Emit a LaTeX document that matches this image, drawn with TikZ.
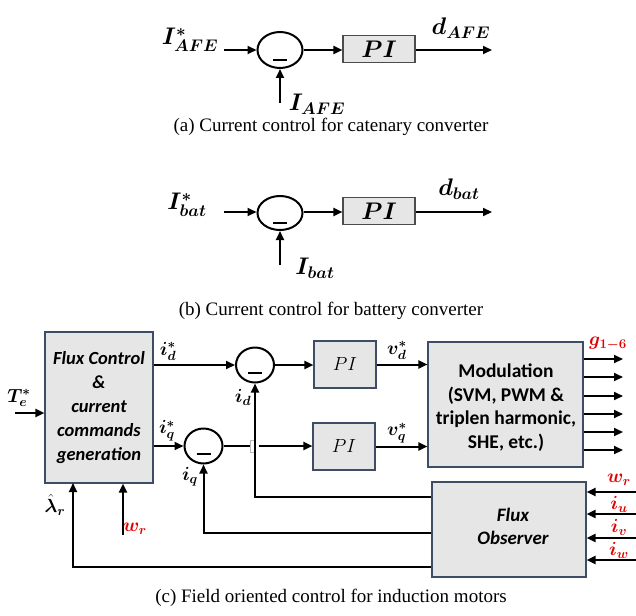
\documentclass[tikz,border=0pt]{standalone}
\usepackage{fix-cm}
\usepackage{amsmath}
\usepackage{bm}
\usepackage{fontspec}
\setmainfont{Liberation Serif}
\newfontfamily\calib{Carlito}
\usetikzlibrary{arrows.meta,shapes.geometric,calc}
\definecolor{boxfill}{HTML}{E6E6E6}
\definecolor{boxedge}{HTML}{3E4D63}
\definecolor{sigred}{HTML}{E00000}
\begin{document}
\begin{tikzpicture}[x=1pt,y=-1pt,
  line/.style={line width=2pt},
  arr/.style={line width=2pt,-{Triangle[length=9pt,width=8pt]}},
  pibox/.style={draw=black!70,line width=1.1pt,fill=boxfill,inner sep=0pt},
  cbox/.style={draw=boxedge,line width=1.1pt,fill=boxfill,inner sep=0pt,align=center},
  sumnode/.style={ellipse,draw,line width=2pt,inner sep=0pt},
  biglab/.style={font=\fontsize{24}{28}\selectfont,inner sep=0pt},
  lab/.style={font=\fontsize{19}{22}\selectfont,inner sep=0pt},
  redlab/.style={lab,text=sigred},
  capt/.style={font=\fontsize{19}{22}\selectfont,inner sep=0pt},
  minus/.style={line width=1.6pt}]
\useasboundingbox (0,0) rectangle (636,615);

% ---------- panel (a)
\node[sumnode,minimum width=45pt,minimum height=36pt] (suma) at (280,50) {};
\node[pibox,minimum width=72pt,minimum height=27pt,font=\fontsize{24}{28}\selectfont] (pia) at (379,49) {$\bm{PI}$};
\coordinate (ina) at (224,50);
\coordinate (outa) at (492,50);
\coordinate (fba) at (280,103);
\draw[arr] (ina) -- (suma.west);
\draw[arr] (suma.east) -- (suma.east -| pia.west);
\draw[arr] (pia.east |- outa) -- (outa);
\draw[arr] (fba) -- (suma.south);
\draw[minus] ($(suma.center)+(-7,10)$) -- ($(suma.center)+(7,10)$);
\node[biglab] (la1) at (190,40) {$\bm{I^{*}_{AFE}}$};
\node[biglab] (la2) at (461,28) {$\bm{d_{AFE}}$};
\node[biglab] (la3) at (317,104) {$\bm{I_{AFE}}$};
\node[capt] (capa) at (331,127) {(a) Current control for catenary converter};

% ---------- panel (b)
\node[sumnode,minimum width=45pt,minimum height=34pt] (sumb) at (280,213) {};
\node[pibox,minimum width=72pt,minimum height=27pt,font=\fontsize{24}{28}\selectfont] (pib) at (379,211) {$\bm{PI}$};
\coordinate (inb) at (224,212);
\coordinate (outb) at (492,212);
\coordinate (fbb) at (280,265);
\draw[arr] (inb) -- (inb -| sumb.west);
\draw[arr] (sumb.east |- inb) -- (inb -| pib.west);
\draw[arr] (pib.east |- outb) -- (outb);
\draw[arr] (fbb) -- (sumb.south);
\draw[minus] ($(sumb.center)+(-7,10)$) -- ($(sumb.center)+(7,10)$);
\node[biglab] (lb1) at (187,205) {$\bm{I^{*}_{bat}}$};
\node[biglab] (lb2) at (459,189) {$\bm{d_{bat}}$};
\node[biglab] (lb3) at (315,268) {$\bm{I_{bat}}$};
\node[capt] (capb) at (331,311) {(b) Current control for battery converter};

% ---------- panel (c)
\node[cbox,minimum width=108pt,minimum height=151pt] (fc) at (99,407.5) {};
\node[font=\calib\bfseries\itshape\fontsize{18.5}{24}\selectfont,align=center,inner sep=0pt] (fct) at (99,407.5)
  {Flux Control\\\&\\current\\commands\\generation};
\node[sumnode,minimum width=38pt,minimum height=35pt] (sumd) at (255,365) {};
\node[sumnode,minimum width=38pt,minimum height=35pt] (sumq) at (203.5,446) {};
\draw[minus] ($(sumd.center)+(-7,8)$) -- ($(sumd.center)+(7,8)$);
\draw[minus] ($(sumq.center)+(-7,8)$) -- ($(sumq.center)+(7,8)$);
\node[cbox,minimum width=62pt,minimum height=47pt,font=\fontsize{19}{22}\selectfont] (pid) at (345,364.5) {$PI$};
\node[cbox,minimum width=62pt,minimum height=47pt,font=\fontsize{19}{22}\selectfont] (piq) at (344,446.5) {$PI$};
\node[cbox,minimum width=155pt,minimum height=125pt] (mod) at (505.5,404.5) {};
\node[font=\calib\bfseries\fontsize{19.5}{23.7}\selectfont,align=center,inner sep=0pt] (modt) at (506,407.5)
  {Modulation\\(SVM, PWM \&\\triplen harmonic,\\SHE, etc.)};
\node[cbox,minimum width=154pt,minimum height=95pt] (obs) at (509,529.5) {};
\node[font=\calib\bfseries\itshape\fontsize{19}{23}\selectfont,align=center,inner sep=0pt] (obst) at (513,526.5)
  {Flux\\Observer};

% inputs to flux control
\coordinate (te) at (15,413);
\draw[arr] (te) -- (te -| fc.west);
\coordinate (wrin) at (123,535);
\draw[arr] (wrin) -- (wrin |- fc.south);
% references
\draw[arr] (sumd.west -| fc.east) -- (sumd.west);
\draw[arr] (sumq.west -| fc.east) -- (sumq.west);
% to PI
\draw[arr] (sumd.east) -- (sumd.east -| pid.west);
\coordinate (hop) at (sumq.east -| sumd.south);
\draw[line] (sumq.east) -- ($(hop)+(-5,0)$);
\draw[arr] ($(hop)+(4,0)$) -- (sumq.east -| piq.west);
\draw[gray!55,line width=0.7pt] ($(hop)+(-1,-6)$) -- ++(-3.5,0) -- ++(0,12) -- ++(3.5,0);
% to modulation
\draw[arr] (pid.east) -- (pid.east -| mod.west);
\draw[arr] (piq.east) -- (piq.east -| mod.west);
% gate outputs
\foreach \i/\y in {1/359,2/377,3/396,4/414,5/432,6/450}{
  \coordinate (g\i) at (623,\y);
  \draw[arr] (mod.east |- g\i) -- (g\i);
}
% observer inputs
\foreach \i/\y in {1/492,2/514,3/538,4/560}{
  \coordinate (m\i) at (636,\y);
  \draw[arr] (m\i) -- (m\i -| obs.east);
}
% feedbacks
\coordinate (fbd) at (432,497);
\coordinate (fbq) at (432,533);
\coordinate (fbl) at (432,567);
\coordinate (lamin) at (73,483);
\draw[arr] (fbd -| obs.west) -| (sumd.south);
\draw[arr] (fbq -| obs.west) -| (sumq.south);
\draw[arr] (fbl -| obs.west) -| (lamin);

% labels panel (c)
\node[lab] (lte) at (19,398) {$\bm{T^{*}_{e}}$};
\node[lab] (lid) at (168,351) {$\bm{i^{*}_{d}}$};
\node[lab] (liq) at (167,431) {$\bm{i^{*}_{q}}$};
\node[lab] (lid2) at (243,397) {$\bm{i_{d}}$};
\node[lab] (liq2) at (190,477) {$\bm{i_{q}}$};
\node[lab] (llam) at (55,505) {$\bm{\hat{\lambda}_{r}}$};
\node[redlab] (lwr) at (135,529) {$\bm{w_{r}}$};
\node[lab] (lvd) at (397,350) {$\bm{v^{*}_{d}}$};
\node[lab] (lvq) at (397,433) {$\bm{v^{*}_{q}}$};
\node[redlab] (lg) at (608,344) {$\bm{g_{1-6}}$};
\node[redlab] (lwr2) at (619,480) {$\bm{w_{r}}$};
\node[redlab] (liu) at (619,504) {$\bm{i_{u}}$};
\node[redlab] (liv) at (619,527) {$\bm{i_{v}}$};
\node[redlab] (liw) at (619,550) {$\bm{i_{w}}$};
\node[capt] (capc) at (331,598) {(c) Field oriented control for induction motors};
\end{tikzpicture}
\end{document}
